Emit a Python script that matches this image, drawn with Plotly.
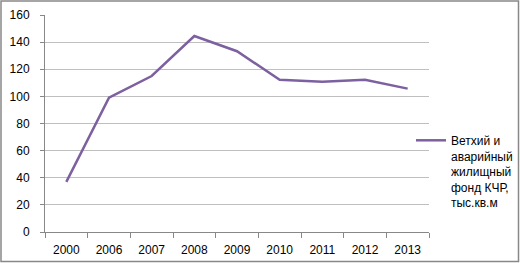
import plotly.graph_objects as go

years = ["2000", "2006", "2007", "2008", "2009", "2010", "2011", "2012", "2013"]
values = [37, 99, 115, 144.5, 133.3, 112.2, 110.8, 112.2, 105.7]
series_name = "Ветхий и<br>аварийный<br>жилищный<br>фонд КЧР,<br>тыс.кв.м"
y_ticks = [0, 20, 40, 60, 80, 100, 120, 140, 160]

W, H = 520, 263
L, R, T, B = 45, 91, 15, 31
pw, ph = W - L - R, H - T - B

fig = go.Figure()
fig.add_trace(go.Scatter(
    x=years, y=values, mode="lines", name=series_name,
    line=dict(color="#7D60A0", width=2.5),
))

fig.update_layout(
    width=W, height=H,
    margin=dict(l=L, r=R, t=T, b=B, pad=0, autoexpand=False),
    paper_bgcolor="white", plot_bgcolor="white",
    font=dict(family="Liberation Sans", size=12, color="#000000"),
    showlegend=True,
    legend=dict(
        x=(411 - L) / pw, y=(232 - 126) / ph, xanchor="left", yanchor="top",
        valign="top", itemwidth=30, tracegroupgap=0,
        font=dict(family="Liberation Sans", size=12, color="#000000"),
        bgcolor="rgba(0,0,0,0)",
    ),
    xaxis=dict(
        type="category", range=[-0.5, 8.5], showgrid=False, showline=True,
        linecolor="#888888", linewidth=1,
        ticks="outside", tickson="boundaries", ticklen=5, tickcolor="#888888",
        tickfont=dict(size=12), zeroline=False, ticklabelstandoff=7,
    ),
    yaxis=dict(
        range=[0, 160], tickvals=y_ticks, showgrid=True, gridcolor="#BFBFBF", gridwidth=1,
        showline=True, linecolor="#888888", linewidth=1,
        ticks="outside", ticklen=4, tickcolor="#888888", zeroline=False,
        tickfont=dict(size=12), ticklabelstandoff=8,
    ),
    shapes=[dict(
        type="rect", xref="paper", yref="paper",
        x0=(1 - L) / pw, x1=(518.5 - L) / pw,
        y0=(232 - 261.5) / ph, y1=(232 - 1) / ph,
        line=dict(color="#888888", width=1.5), fillcolor="rgba(0,0,0,0)", layer="below",
    )],
)

fig.write_html("out.html", config={"displayModeBar": False},
               post_script="document.body.style.margin='0';")
